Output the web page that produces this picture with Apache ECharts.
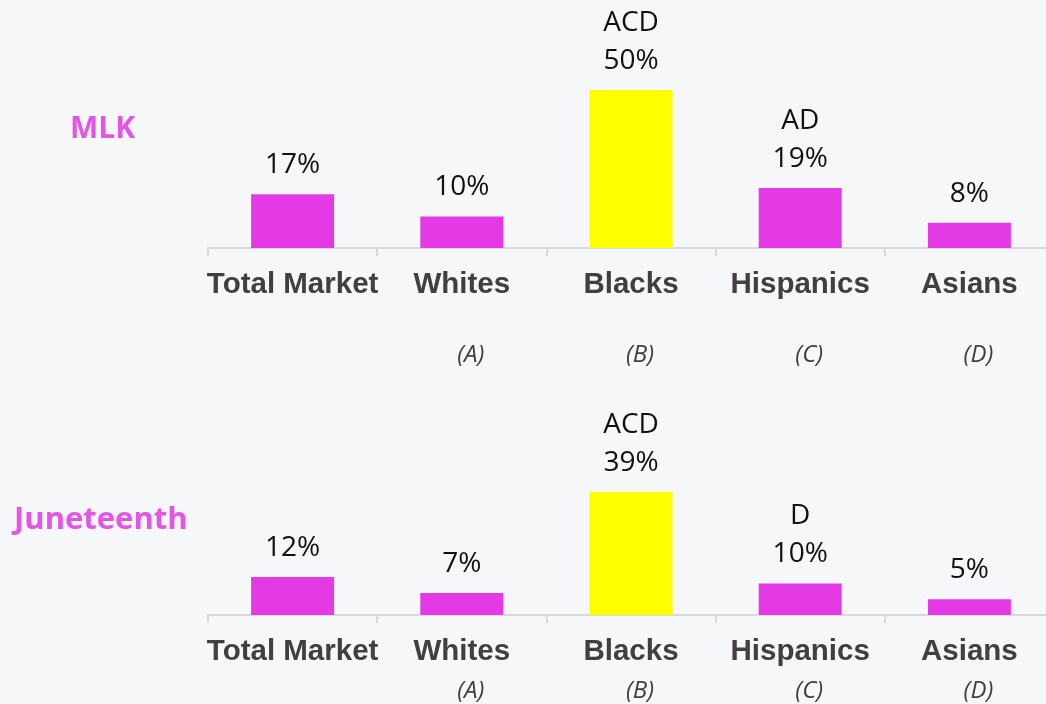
<!DOCTYPE html>
<html><head><meta charset="utf-8">
<script src="https://cdn.jsdelivr.net/npm/echarts@6/dist/echarts.min.js"></script>
<style>html,body{margin:0;padding:0;background:#f6f7f9}#c{width:1046px;height:704px}</style>
</head><body><div id="c"></div>
<script>
const categories = ['Total Market', 'Whites', 'Blacks', 'Hispanics', 'Asians'];
const groupLetters = ['', '(A)', '(B)', '(C)', '(D)'];
const mlkValues = [17, 10, 50, 19, 8];
const mlkSig = ['', '', 'ACD', 'AD', ''];
const juneValues = [12, 7, 39, 10, 5];
const juneSig = ['', '', 'ACD', 'D', ''];
const panelTitles = ['MLK', 'Juneteenth'];

const PINK = '#e33ae6', YELLOW = '#ffff00';
function barData(vals, sig) {
  return vals.map((v, i) => ({
    value: v,
    sig: sig[i],
    itemStyle: { color: categories[i] === 'Blacks' ? YELLOW : PINK }
  }));
}
const labelCfg = {
  show: true, position: 'top', distance: 10, color: '#111',
  fontFamily: 'Open Sans', fontSize: 28, lineHeight: 38,
  formatter: p => (p.data.sig ? p.data.sig + '\n' : '') + p.value + '%'
};
function catAxis(g, margin) {
  return {
    type: 'category', gridIndex: g, data: categories,
    axisLine: { show: true, lineStyle: { color: '#d9d9d9', width: 2 } },
    axisTick: { show: true, length: 8, lineStyle: { color: '#d9d9d9', width: 2 } },
    axisLabel: { margin: margin, color: '#404040', fontFamily: 'Liberation Sans', fontWeight: 'bold', fontSize: 29.5, interval: 0 }
  };
}
function letterAxis(g, margin) {
  return {
    type: 'category', gridIndex: g, data: groupLetters, position: 'bottom',
    axisLine: { show: false }, axisTick: { show: false },
    axisLabel: { margin: margin, color: '#404040', fontFamily: 'Open Sans', fontStyle: 'italic', fontSize: 24, interval: 0, padding: [0, 0, 0, 18] }
  };
}
const chart = echarts.init(document.getElementById('c'), null, { renderer: 'canvas' });
chart.setOption({
  backgroundColor: '#f6f7f9',
  animation: false,
  title: [
    { text: panelTitles[0], left: 70, top: 114, padding: 0,
      textStyle: { color: '#e455e6', fontFamily: 'Open Sans', fontWeight: 'bold', fontSize: 30 } },
    { text: panelTitles[1], left: 14, top: 505, padding: 0,
      textStyle: { color: '#e455e6', fontFamily: 'Open Sans', fontWeight: 'bold', fontSize: 31 } }
  ],
  grid: [
    { left: 208, right: -8, top: 90, bottom: 456, containLabel: false, outerBoundsMode: 'none' },
    { left: 208, right: -8, top: 457, bottom: 89, containLabel: false, outerBoundsMode: 'none' }
  ],
  xAxis: [catAxis(0, 22), letterAxis(0, 95), catAxis(1, 22), letterAxis(1, 64)],
  yAxis: [
    { type: 'value', gridIndex: 0, min: 0, max: 50, show: false },
    { type: 'value', gridIndex: 1, min: 0, max: 50, show: false }
  ],
  series: [
    { type: 'bar', xAxisIndex: 0, yAxisIndex: 0, barWidth: 83, data: barData(mlkValues, mlkSig), label: labelCfg },
    { type: 'bar', xAxisIndex: 2, yAxisIndex: 1, barWidth: 83, data: barData(juneValues, juneSig), label: labelCfg }
  ]
});
</script></body></html>
